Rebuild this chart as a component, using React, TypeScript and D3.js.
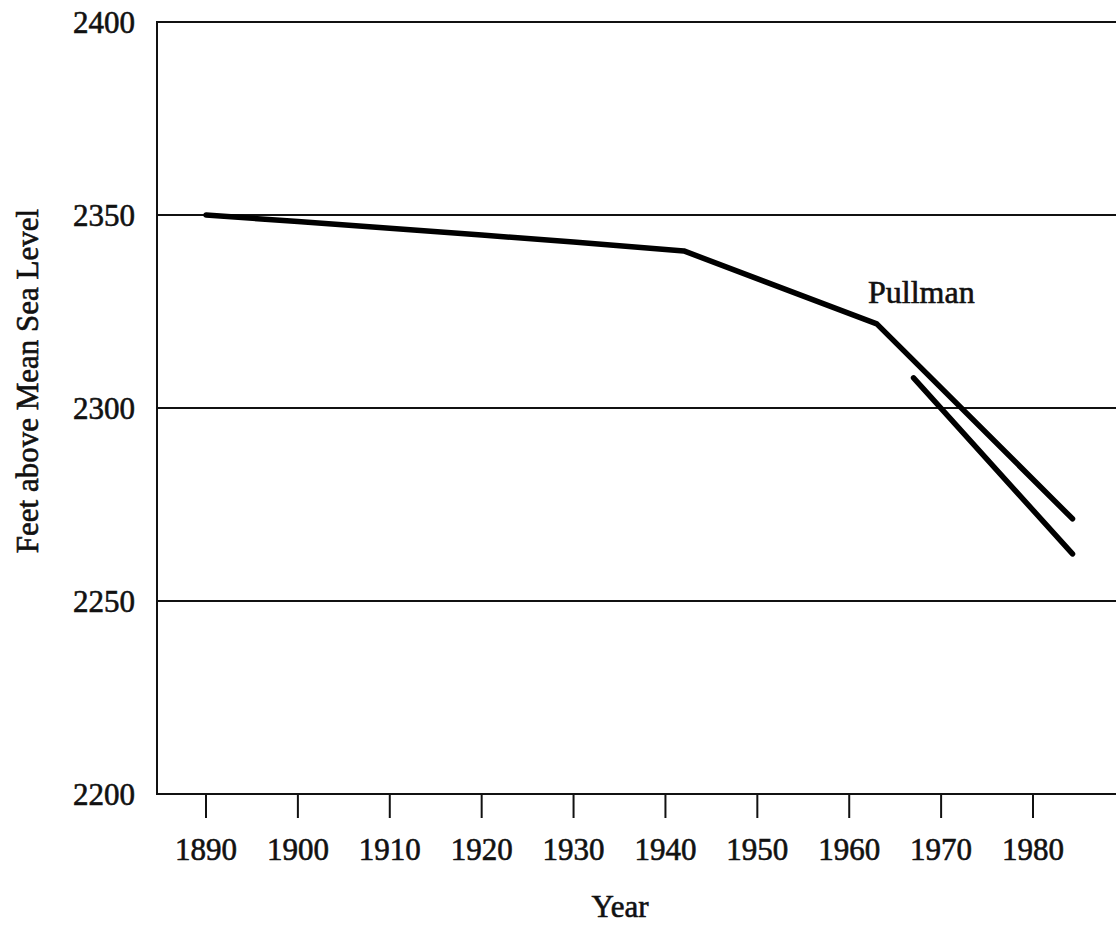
import React, { useRef, useEffect } from 'react';
import * as d3 from 'd3';

// main curve
const mainYears = [1890, 1900, 1920, 1930, 1942, 1963, 1984.3];
const mainLevels = [2350, 2348.3, 2344.8, 2343, 2340.7, 2321.8, 2271.3];

// second, shorter line
const lowerYears = [1967, 1984.3];
const lowerLevels = [2307.8, 2262.2];

const xTicks = [1890, 1900, 1910, 1920, 1930, 1940, 1950, 1960, 1970, 1980];
const yTicks = [2200, 2250, 2300, 2350, 2400];

const seriesLabel = 'Pullman';
const xTitle = 'Year';
const yTitle = 'Feet above Mean Sea Level';

export default function App() {
  const svgRef = useRef<SVGSVGElement>(null);

  useEffect(() => {
    if (!svgRef.current) return;
    document.body.style.margin = '0';

    const width = 1116;
    const height = 925;
    const font = '"Liberation Serif", "Times New Roman", serif';

    const svg = d3.select(svgRef.current)
      .attr('width', width)
      .attr('height', height)
      .attr('viewBox', `0 0 ${width} ${height}`);

    svg.selectAll('*').remove();

    svg.append('rect').attr('width', width).attr('height', height).attr('fill', 'white');

    const x = d3.scaleLinear().domain([1890, 1980]).range([206, 1033]);
    const y = d3.scaleLinear().domain([2200, 2400]).range([794, 22]);
    const left = 157;

    // scanned-print look: slightly heavier glyphs
    const styleText = (sel: any) => sel
      .attr('font-family', font)
      .attr('fill', '#111')
      .attr('stroke', '#111')
      .attr('stroke-width', 0.6);

    // horizontal rules (top border + gridlines + bottom axis)
    svg.append('g')
      .selectAll('line')
      .data(yTicks)
      .join('line')
      .attr('x1', left)
      .attr('x2', width)
      .attr('y1', d => y(d))
      .attr('y2', d => y(d))
      .attr('stroke', '#111')
      .attr('stroke-width', 2);

    // left axis
    svg.append('line')
      .attr('x1', left).attr('x2', left)
      .attr('y1', y(2400) - 1).attr('y2', y(2200) + 1)
      .attr('stroke', '#111')
      .attr('stroke-width', 2);

    // y labels
    svg.append('g')
      .selectAll('text')
      .data(yTicks)
      .join('text')
      .attr('x', 135)
      .attr('y', d => y(d) + 11)
      .attr('text-anchor', 'end')
      .attr('font-size', 31)
      .call(styleText)
      .text(d => d);

    // x ticks
    svg.append('g')
      .selectAll('line')
      .data(xTicks)
      .join('line')
      .attr('x1', d => x(d))
      .attr('x2', d => x(d))
      .attr('y1', y(2200))
      .attr('y2', y(2200) + 24)
      .attr('stroke', '#111')
      .attr('stroke-width', 2);

    svg.append('g')
      .selectAll('text')
      .data(xTicks)
      .join('text')
      .attr('x', d => x(d))
      .attr('y', 860)
      .attr('text-anchor', 'middle')
      .attr('font-size', 31)
      .call(styleText)
      .text(d => d);

    const line = d3.line<[number, number]>()
      .x(d => x(d[0]))
      .y(d => y(d[1]));

    const mainData = mainYears.map((yr, i) => [yr, mainLevels[i]] as [number, number]);
    const lowerData = lowerYears.map((yr, i) => [yr, lowerLevels[i]] as [number, number]);

    [mainData, lowerData].forEach(data => {
      svg.append('path')
        .datum(data)
        .attr('fill', 'none')
        .attr('stroke', '#000')
        .attr('stroke-width', 5.5)
        .attr('stroke-linecap', 'round')
        .attr('stroke-linejoin', 'round')
        .attr('d', line);
    });

    svg.append('text')
      .attr('x', 868)
      .attr('y', 303)
      .attr('font-size', 32)
      .call(styleText)
      .text(seriesLabel);

    svg.append('text')
      .attr('x', 620)
      .attr('y', 917)
      .attr('text-anchor', 'middle')
      .attr('font-size', 31)
      .call(styleText)
      .text(xTitle);

    svg.append('text')
      .attr('transform', `translate(38, 381) rotate(-90)`)
      .attr('text-anchor', 'middle')
      .attr('font-size', 31)
      .call(styleText)
      .text(yTitle);
  }, []);

  return <svg ref={svgRef} style={{ display: 'block' }} />;
}
